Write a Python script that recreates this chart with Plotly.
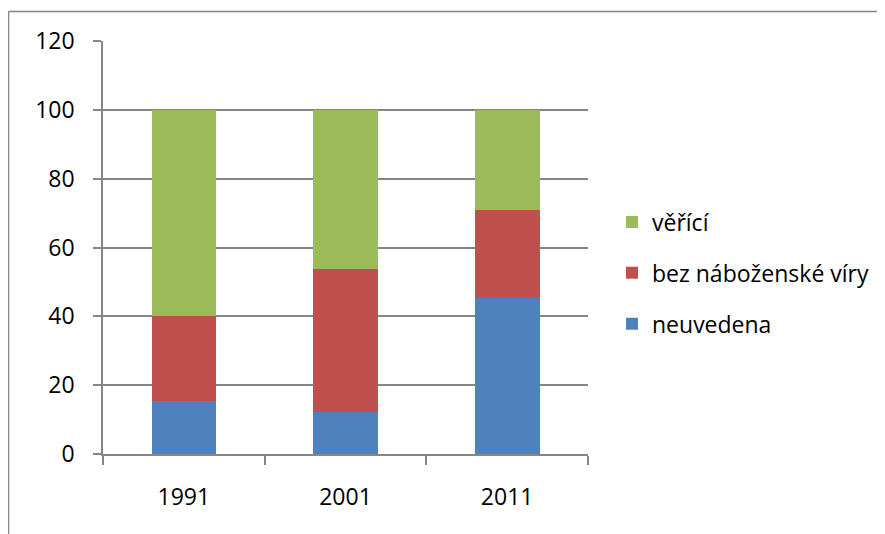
import plotly.graph_objects as go

years = ["1991", "2001", "2011"]
neuvedena = [15.3, 12.3, 45.2]
bez_viry = [24.7, 41.5, 25.6]
verici = [60.0, 46.2, 29.2]

series = [
    ("neuvedena", neuvedena, "#4F81BD", 3),
    ("bez náboženské víry", bez_viry, "#C0504D", 2),
    ("věřící", verici, "#9BBB59", 1),
]

fig = go.Figure()
for name, vals, color, rank in series:
    fig.add_trace(go.Bar(
        x=years, y=vals, name=name, legendgroup=name, legendrank=rank,
        marker=dict(color=color, line=dict(width=0)),
    ))

grid = "#868686"
# page body adds 8px margin, so work in page px minus 8
OFF = 8
W, H = 885, 534
L, R, T, B = 103 - OFF, 588 - OFF, 41 - OFF, 454 - OFF
pw, ph = R - L, B - T

def px_x(v):
    return (v - OFF - L) / pw

def px_y(v):
    return (B - (v - OFF)) / ph

fig.update_layout(
    width=W, height=H,
    margin=dict(l=L, r=W - R, t=T, b=H - B),
    barmode="stack",
    bargap=0.6,
    plot_bgcolor="white",
    paper_bgcolor="white",
    font=dict(family="Open Sans", size=23, color="black"),
    legend=dict(
        x=px_x(612), y=px_y(273), xanchor="left", yanchor="middle",
        traceorder="grouped", tracegroupgap=18,
        font=dict(size=23),
    ),
    shapes=[
        dict(type="line", xref="paper", yref="paper",
             x0=px_x(8.5), x1=px_x(8.5), y0=px_y(11.5), y1=px_y(560),
             line=dict(color=grid, width=1.5)),
        dict(type="line", xref="paper", yref="paper",
             x0=px_x(8.5), x1=px_x(900), y0=px_y(11.5), y1=px_y(11.5),
             line=dict(color=grid, width=1.5)),
    ],
)

fig.update_yaxes(
    range=[0, 120], dtick=20, showgrid=True, gridcolor=grid, gridwidth=1.5,
    showline=True, linecolor=grid, linewidth=1.5,
    ticks="outside", ticklen=8, tickcolor=grid, tickwidth=1.5,
    ticklabelstandoff=14, zeroline=False,
)
fig.update_xaxes(
    type="category", showline=True, linecolor=grid, linewidth=1.5,
    ticks="outside", ticklen=9, tickcolor=grid, tickwidth=1.5,
    tickson="boundaries", ticklabelstandoff=22,
)

fig.write_html("out.html")
